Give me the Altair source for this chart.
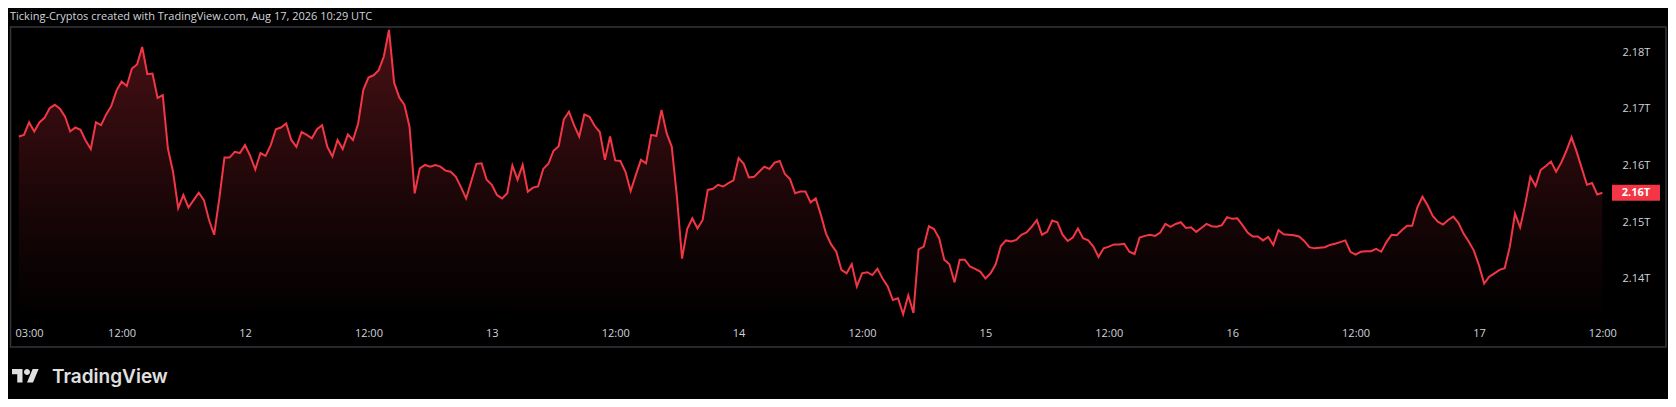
import altair as alt
import pandas as pd

# ---------------- data ----------------
title_text = "Ticking-Cryptos created with TradingView.com, Aug 17, 2026 10:29 UTC"
brand_text = "TradingView"
start_time = "2026-08-11 02:00"   # first 30-minute bar
bar_freq = "30min"

# total crypto market cap, in billions USD (2.16T = 2160)
price_b = [
    2165.1, 2165.4, 2167.6, 2166.0, 2167.6, 2168.4, 2170.1, 2170.7, 2170.0, 2168.6,
    2166.0, 2166.7, 2166.3, 2164.4, 2162.9, 2167.6, 2167.1, 2169.0, 2170.5, 2173.2,
    2174.8, 2174.0, 2177.1, 2177.8, 2180.9, 2176.1, 2176.2, 2171.9, 2172.4, 2163.0,
    2158.9, 2152.5, 2154.8, 2152.6, 2153.9, 2155.2, 2153.9, 2150.4, 2147.8, 2154.2,
    2161.4, 2161.4, 2162.4, 2162.2, 2163.6, 2161.7, 2159.3, 2162.2, 2161.7, 2163.6,
    2166.4, 2166.7, 2167.4, 2164.5, 2163.3, 2165.9, 2165.4, 2164.8, 2166.4, 2167.1,
    2163.3, 2161.6, 2164.5, 2162.9, 2165.5, 2164.5, 2167.4, 2173.3, 2175.5, 2175.9,
    2176.8, 2179.2, 2183.9, 2174.6, 2172.0, 2170.7, 2166.8, 2155.1, 2159.5, 2160.1,
    2159.8, 2160.1, 2159.8, 2159.1, 2158.9, 2158.0, 2156.2, 2154.2, 2157.2, 2160.3,
    2160.4, 2157.5, 2156.6, 2154.8, 2154.2, 2155.1, 2160.0, 2157.5, 2160.1, 2155.4,
    2156.1, 2156.3, 2159.4, 2160.3, 2162.6, 2163.4, 2168.1, 2169.5, 2167.1, 2165.1,
    2169.0, 2168.6, 2167.0, 2165.9, 2161.0, 2165.1, 2160.9, 2160.8, 2158.9, 2155.5,
    2158.3, 2161.0, 2160.4, 2165.4, 2165.2, 2169.8, 2165.7, 2163.3, 2154.5, 2143.6,
    2148.8, 2150.7, 2148.9, 2150.4, 2155.7, 2155.9, 2156.6, 2156.3, 2156.9, 2157.4,
    2161.3, 2160.3, 2157.9, 2158.0, 2158.9, 2159.8, 2159.4, 2160.5, 2160.8, 2158.5,
    2157.6, 2155.1, 2155.4, 2155.4, 2153.5, 2154.2, 2151.3, 2148.0, 2146.1, 2144.8,
    2141.6, 2141.0, 2142.6, 2138.7, 2141.0, 2141.2, 2140.7, 2141.8, 2140.1, 2138.7,
    2136.3, 2136.6, 2133.8, 2137.1, 2134.0, 2145.2, 2145.7, 2149.3, 2148.8, 2147.2,
    2143.4, 2142.6, 2139.4, 2143.4, 2143.4, 2142.2, 2141.8, 2141.3, 2140.1, 2141.0,
    2142.6, 2145.8, 2146.8, 2146.6, 2146.9, 2147.8, 2148.2, 2149.2, 2150.4, 2147.8,
    2148.3, 2150.3, 2150.0, 2147.8, 2146.7, 2147.3, 2148.9, 2147.2, 2146.8, 2145.7,
    2143.9, 2145.4, 2145.7, 2146.1, 2146.1, 2146.2, 2144.8, 2144.4, 2147.3, 2147.6,
    2147.8, 2147.6, 2148.2, 2149.7, 2149.2, 2149.7, 2150.0, 2149.0, 2149.1, 2148.3,
    2149.0, 2149.7, 2149.3, 2149.2, 2149.5, 2150.9, 2150.6, 2150.7, 2149.5, 2148.2,
    2147.5, 2147.5, 2146.8, 2147.4, 2146.0, 2148.6, 2147.9, 2147.8, 2147.7, 2147.5,
    2146.7, 2145.6, 2145.4, 2145.5, 2145.6, 2146.0, 2146.2, 2146.5, 2146.8, 2144.8,
    2144.3, 2144.8, 2144.9, 2144.9, 2145.3, 2144.8, 2146.5, 2147.8, 2147.7, 2148.6,
    2149.4, 2149.4, 2152.6, 2154.5, 2153.0, 2151.1, 2150.1, 2149.6, 2150.4, 2151.0,
    2149.9, 2148.0, 2146.6, 2145.0, 2142.4, 2139.2, 2140.4, 2141.0, 2141.6, 2141.9,
    2145.7, 2151.5, 2149.1, 2153.2, 2158.0, 2156.4, 2159.2, 2159.9, 2160.7, 2158.9,
    2160.5, 2162.6, 2165.0, 2162.4, 2159.5, 2156.6, 2156.9, 2154.9, 2155.2,
]

y_ticks = [2140, 2150, 2160, 2170, 2180]
x_ticks = [
    "2026-08-11 03:00", "2026-08-11 12:00",
    "2026-08-12 00:00", "2026-08-12 12:00",
    "2026-08-13 00:00", "2026-08-13 12:00",
    "2026-08-14 00:00", "2026-08-14 12:00",
    "2026-08-15 00:00", "2026-08-15 12:00",
    "2026-08-16 00:00", "2026-08-16 12:00",
    "2026-08-17 00:00", "2026-08-17 12:00",
]

# ---------------- layout / style ----------------
W, H = 1602, 292
RED = "#f23645"
TXT = "#d1d4dc"
FONT = "Open Sans"
px_per_hour = 10.283
first_bar_px = 8.8

times = pd.date_range(start_time, periods=len(price_b), freq=bar_freq, tz="UTC")
df = pd.DataFrame({"time": times, "price": price_b})

t0 = pd.Timestamp(start_time, tz="UTC")
def ms(ts):
    return int(ts.value // 10**6)

x_dom = [
    ms(t0 - pd.Timedelta(hours=first_bar_px / px_per_hour)),
    ms(t0 + pd.Timedelta(hours=(W - first_bar_px) / px_per_hour)),
]
x_tick_ms = [ms(pd.Timestamp(t, tz="UTC")) for t in x_ticks]
y_dom = [2132.95, 2184.41]
y_scale = alt.Scale(domain=y_dom, zero=False, nice=False)

x_enc = alt.X(
    "time:T",
    scale=alt.Scale(type="utc", domain=x_dom),
    axis=alt.Axis(
        values=x_tick_ms,
        labelExpr="utchours(datum.value) == 0 ? utcFormat(datum.value, '%-d') : utcFormat(datum.value, '%H:%M')",
        title=None, grid=False, domain=False, ticks=False,
        labelPadding=8, labelColor=TXT, labelFont=FONT, labelFontSize=11,
        labelFlush=False, labelOverlap=False,
    ),
)
y_axis = alt.Axis(
    orient="right", values=y_ticks,
    labelExpr="format(datum.value / 1000, '.2f') + 'T'",
    title=None, grid=False, domain=False, ticks=False,
    labelPadding=10, labelAlign="left", labelColor=TXT, labelFont=FONT,
    labelFontSize=11, labelFlush=False, labelOverlap=False,
)
y_enc = alt.Y("price:Q", scale=y_scale, axis=y_axis, stack=None)

gradient = alt.Gradient(
    gradient="linear",
    stops=[
        alt.GradientStop(color="rgba(242,54,69,0.30)", offset=0),
        alt.GradientStop(color="rgba(242,54,69,0.11)", offset=0.6),
        alt.GradientStop(color="rgba(242,54,69,0.0)", offset=1),
    ],
    x1=1, x2=1, y1=0, y2=1,
)

base = alt.Chart(df)
area = base.mark_area(color=gradient).encode(x=x_enc, y=y_enc, y2=alt.value(H))
line = base.mark_line(color=RED, strokeWidth=2).encode(x=x_enc, y=y_enc)

last = alt.Chart(df.tail(1)).transform_calculate(
    top="datum.price + 1.41",
    bot="datum.price - 1.41",
    label="format(datum.price / 1000, '.2f') + 'T'",
)
price_box = last.mark_rect(color=RED).encode(
    x=alt.value(W), x2=alt.value(W + 48),
    y=alt.Y("top:Q", scale=y_scale, axis=y_axis),
    y2="bot:Q",
)
price_txt = last.mark_text(
    align="center", baseline="middle", color="#ffffff",
    fontWeight="bold", fontSize=11, font=FONT,
).encode(x=alt.value(W + 24), y=alt.Y("price:Q", scale=y_scale, axis=y_axis), text="label:N")

frame = alt.Chart(pd.DataFrame({"a": [0]})).mark_rect(
    fill="transparent", stroke="#34363c", strokeWidth=1.5
).encode(x=alt.value(0.5), x2=alt.value(1656), y=alt.value(0), y2=alt.value(320))

title = alt.Chart(pd.DataFrame({"t": [title_text]})).mark_text(
    align="left", baseline="alphabetic", fontSize=11, font=FONT, color=TXT
).encode(x=alt.value(0), y=alt.value(-7.3), text="t:N")

logo_path = (
    "M-0.2222,0.5 L-0.6111,0.5 L-0.6111,-0.1111 L-1,-0.1111 L-1,-0.5 L-0.2222,-0.5 Z "
    "M0.5556,0.5 L0.1111,0.5 L0.5278,-0.5 L0.9722,-0.5 Z "
    "M-0.1111,-0.2778 A0.2222,0.2222 0 1 0 0.3333,-0.2778 A0.2222,0.2222 0 1 0 -0.1111,-0.2778 Z"
)
logo = alt.Chart(pd.DataFrame({"a": [0]})).mark_point(
    shape=logo_path, filled=True, color="#e0e0e0", opacity=1, size=729, strokeWidth=0
).encode(x=alt.value(15.5), y=alt.value(348.75))

brand = alt.Chart(pd.DataFrame({"t": [brand_text]})).mark_text(
    align="left", baseline="alphabetic", fontSize=19, font="Inter",
    fontWeight=600, color="#e0e0e0"
).encode(x=alt.value(42), y=alt.value(356), text="t:N")

chart = alt.layer(
    frame, area, line, price_box, price_txt, title, logo, brand
).properties(
    width=W, height=H,
    autosize=alt.AutoSizeParams(type="none"),
    padding={"left": 2, "top": 19, "right": 56, "bottom": 80},
    background="#000000",
).configure(font=FONT).configure_view(
    stroke="transparent", strokeWidth=0
).configure_axis(domain=False, ticks=False, grid=False)

chart.save("out.html", embed_options={"renderer": "svg", "actions": False})
